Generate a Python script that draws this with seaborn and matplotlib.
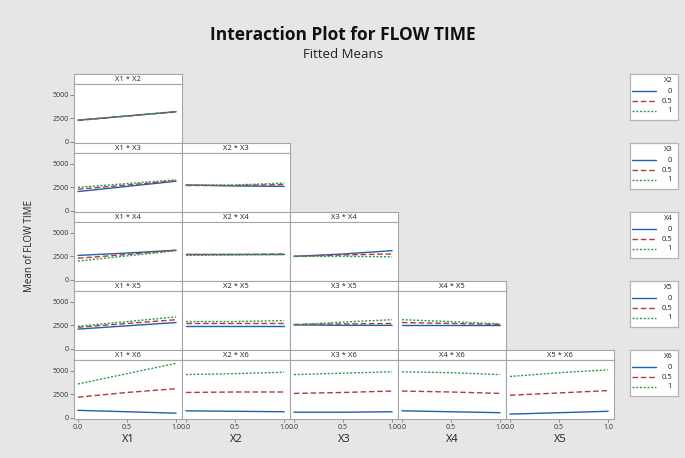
import matplotlib
matplotlib.use("Agg")
import matplotlib.pyplot as plt
import pandas as pd
import seaborn as sns

# ---------------- data (fitted means at factor settings 0, 0.5, 1) ----------------
x_points = [0.0, 0.5, 1.0]
levels = ["0", "0.5", "1"]
factors = ["X1", "X2", "X3", "X4", "X5", "X6"]

# row: trace factor X2
X1_X2 = {"0": [2300, 2750, 3200], "0.5": [2280, 2740, 3200], "1": [2320, 2760, 3220]}
# row: trace factor X3
X1_X3 = {"0": [2050, 2600, 3150], "0.5": [2300, 2750, 3200], "1": [2500, 2900, 3300]}
X2_X3 = {"0": [2750, 2650, 2600], "0.5": [2700, 2700, 2800], "1": [2750, 2750, 2950]}
# row: trace factor X4
X1_X4 = {"0": [2600, 2850, 3150], "0.5": [2300, 2700, 3150], "1": [2000, 2550, 3100]}
X2_X4 = {"0": [2800, 2800, 2800], "0.5": [2700, 2700, 2750], "1": [2600, 2650, 2700]}
X3_X4 = {"0": [2500, 2750, 3100], "0.5": [2500, 2650, 2750], "1": [2500, 2500, 2450]}
# row: trace factor X5
X1_X5 = {"0": [2100, 2450, 2800], "0.5": [2300, 2700, 3100], "1": [2400, 2900, 3400]}
X2_X5 = {"0": [2400, 2400, 2400], "0.5": [2700, 2700, 2700], "1": [2900, 2900, 3000]}
X3_X5 = {"0": [2550, 2500, 2500], "0.5": [2600, 2650, 2700], "1": [2550, 2850, 3100]}
X4_X5 = {"0": [2500, 2500, 2500], "0.5": [2800, 2700, 2600], "1": [3100, 2900, 2650]}
# row: trace factor X6
X1_X6 = {"0": [800, 650, 500], "0.5": [2200, 2700, 3100], "1": [3600, 4700, 5800]}
X2_X6 = {"0": [750, 700, 650], "0.5": [2700, 2750, 2750], "1": [4600, 4700, 4850]}
X3_X6 = {"0": [600, 600, 650], "0.5": [2600, 2700, 2850], "1": [4600, 4750, 4900]}
X4_X6 = {"0": [750, 650, 550], "0.5": [2850, 2750, 2600], "1": [4900, 4800, 4600]}
X5_X6 = {"0": [400, 550, 700], "0.5": [2400, 2650, 2900], "1": [4400, 4800, 5100]}

panels = {
    ("X1", "X2"): X1_X2,
    ("X1", "X3"): X1_X3, ("X2", "X3"): X2_X3,
    ("X1", "X4"): X1_X4, ("X2", "X4"): X2_X4, ("X3", "X4"): X3_X4,
    ("X1", "X5"): X1_X5, ("X2", "X5"): X2_X5, ("X3", "X5"): X3_X5, ("X4", "X5"): X4_X5,
    ("X1", "X6"): X1_X6, ("X2", "X6"): X2_X6, ("X3", "X6"): X3_X6, ("X4", "X6"): X4_X6,
    ("X5", "X6"): X5_X6,
}
y_ticks = [0, 2500, 5000]
x_ticks = [0.0, 0.5, 1.0]
x_tick_labels = ["0.0", "0.5", "1.0"]

# ---------------- styling ----------------
sns.set_theme(style="white")
plt.rcParams["font.family"] = ["Open Sans", "DejaVu Sans"]

colors = {"0": "#1f5fb0", "0.5": "#b23a3a", "1": "#2e9a48"}
dashes = {"0": "", "0.5": (4, 2), "1": (1.5, 1.2)}
edge = "#a6a6a6"
bg = "#e6e6e6"

W, H = 685, 458
fig = plt.figure(figsize=(W / 100, H / 100), dpi=100, facecolor=bg)


def fx(px):
    return px / W


def fy(py):
    return 1 - py / H


col_left = 74
col_w = 108
row_top = 74
row_h = 69
strip_h = 10

for r in range(5):
    trace = factors[r + 1]
    for c in range(r + 1):
        xvar = factors[c]
        vals = panels[(xvar, trace)]
        rows = []
        for lev in levels:
            for xv, yv in zip(x_points, vals[lev]):
                rows.append({"x": xv, "mean": yv, "level": lev})
        df = pd.DataFrame(rows)

        left = col_left + c * col_w
        top = row_top + r * row_h
        # strip
        sax = fig.add_axes([fx(left), fy(top + strip_h), col_w / W, strip_h / H])
        sax.set_facecolor("white")
        sax.set_xticks([])
        sax.set_yticks([])
        for s in sax.spines.values():
            s.set_color(edge)
            s.set_linewidth(0.8)
        sax.text(0.5, 0.45, f"{xvar} * {trace}", ha="center", va="center",
                 fontsize=5.5, transform=sax.transAxes, color="#222222")
        # plot area
        ax = fig.add_axes([fx(left), fy(top + row_h), col_w / W, (row_h - strip_h) / H])
        ax.set_facecolor("white")
        sns.lineplot(data=df, x="x", y="mean", hue="level", style="level",
                     hue_order=levels, style_order=levels, palette=colors,
                     dashes=dashes, linewidth=1.0, legend=False, ax=ax)
        ax.set_xlim(-0.04, 1.06)
        ax.set_ylim(-120, 6150)
        ax.set_xlabel("")
        ax.set_ylabel("")
        for s in ax.spines.values():
            s.set_color(edge)
            s.set_linewidth(0.8)
        ax.set_yticks(y_ticks)
        ax.set_xticks(x_ticks)
        if c == 0:
            ax.set_yticklabels([str(t) for t in y_ticks], fontsize=5, color="#333333")
            ax.tick_params(axis="y", length=3, width=0.6, color="#777777", pad=1, left=True)
        else:
            ax.tick_params(axis="y", left=False, labelleft=False)
        if r == 4:
            ax.set_xticklabels(x_tick_labels, fontsize=5, color="#333333")
            ax.tick_params(axis="x", length=2, width=0.6, color="#777777", pad=1.5, bottom=True)
            ax.set_xlabel(xvar, fontsize=8, color="#222222", labelpad=2)
        else:
            ax.tick_params(axis="x", bottom=False, labelbottom=False)

    # legend box for this row
    lax = fig.add_axes([fx(630), fy(row_top + r * row_h + 46), 48 / W, 46 / H])
    lax.set_facecolor("white")
    lax.set_xlim(0, 1)
    lax.set_ylim(0, 1)
    lax.set_xticks([])
    lax.set_yticks([])
    for s in lax.spines.values():
        s.set_color("#b5b5b5")
        s.set_linewidth(0.9)
    lax.text(0.88, 0.86, trace, ha="right", va="center", fontsize=5.5, color="#222222")
    for i, lev in enumerate(levels):
        yy = 0.62 - i * 0.21
        ls = "-" if dashes[lev] == "" else (0, dashes[lev])
        lax.plot([0.05, 0.55], [yy, yy], color=colors[lev], linestyle=ls, linewidth=1.0)
        lax.text(0.88, yy, lev, ha="right", va="center", fontsize=5.5, color="#222222")

fig.text(fx(30), fy(246), "Mean of FLOW TIME", rotation=90, ha="center", va="center",
         fontsize=7, color="#222222")
fig.text(fx(343), fy(35), "Interaction Plot for FLOW TIME", ha="center", va="center",
         fontsize=12.5, fontweight="bold", color="#111111")
fig.text(fx(343), fy(54), "Fitted Means", ha="center", va="center",
         fontsize=9.5, color="#222222")

fig.savefig("out.png", dpi=100, facecolor=bg)
